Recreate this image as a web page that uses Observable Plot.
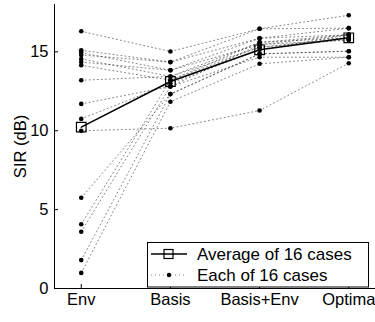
<!DOCTYPE html>
<html>
<head>
<meta charset="utf-8">
<script src="https://cdn.jsdelivr.net/npm/d3@7"></script>
<script src="https://cdn.jsdelivr.net/npm/@observablehq/plot@0.6"></script>
<style>
  html, body { margin: 0; padding: 0; background: #fff; }
  #chart { width: 375px; height: 322px; }
</style>
</head>
<body>
<div id="chart"></div>
<script>
const categories = ["Env", "Basis", "Basis+Env", "Optima"];
const yTicks = [0, 5, 10, 15];

// each of 16 cases, one array per method (case i in position i)
const envValues       = [16.3, 15.1, 14.95, 14.8, 14.55, 14.35, 14.15, 13.2, 11.7, 10.75, 10.0, 5.75, 4.07, 3.6, 1.8, 0.99];
const basisValues     = [15.02, 14.35, 13.83, 14.35, 13.44, 13.83, 13.2, 13.44, 12.8, 13.0, 10.16, 12.32, 13.2, 12.8, 12.32, 11.84];
const basisEnvValues  = [16.46, 16.46, 15.86, 15.86, 15.6, 15.46, 15.6, 15.29, 15.46, 15.13, 11.28, 14.87, 15.29, 14.66, 14.87, 14.24];
const optimaValues    = [17.32, 16.5, 16.5, 16.08, 16.08, 16.08, 15.89, 15.89, 15.76, 16.08, 14.28, 15.04, 15.76, 14.66, 15.04, 14.66];

// average of 16 cases
const averageValues   = [10.23, 13.12, 15.13, 15.89];

const seriesByMethod = [envValues, basisValues, basisEnvValues, optimaValues];
const cases = [];
seriesByMethod.forEach((vals, m) => {
  vals.forEach((v, c) => cases.push({caseId: c, x: m + 1, value: v}));
});
const average = averageValues.map((v, m) => ({x: m + 1, value: v}));

const font = "'Liberation Sans', Arial, Helvetica, sans-serif";

const plot = Plot.plot({
  width: 375,
  height: 322,
  marginLeft: 54,
  marginRight: 0,
  marginTop: 4,
  marginBottom: 34,
  style: {fontFamily: font, fontSize: "16.5px", background: "#fff", color: "#000", overflow: "visible"},
  x: {domain: [0.7, 4.3]},
  y: {domain: [0, 18]},
  marks: [
    Plot.line(cases, {x: "x", y: "value", z: "caseId", stroke: "#000", strokeWidth: 0.9, strokeDasharray: "1,3", strokeOpacity: 0.55}),
    Plot.dot(cases, {x: "x", y: "value", r: 2.3, fill: "#000"}),
    Plot.line(average, {x: "x", y: "value", stroke: "#000", strokeWidth: 1.5}),
    Plot.dot(average, {x: "x", y: "value", symbol: "square", r: 5.4, stroke: "#000", strokeWidth: 1.2, fill: "none"}),
    Plot.axisX({ticks: [1, 2, 3, 4], tickFormat: i => categories[i - 1], tickSize: -4, tickPadding: 9, label: null, fontSize: 16.5}),
    Plot.axisY({ticks: yTicks, tickSize: -4, tickPadding: 10, label: "SIR (dB)", labelAnchor: "center", labelOffset: 40, labelArrow: "none", fontSize: 16.5}),
    Plot.ruleX([0.7], {stroke: "#000", strokeWidth: 1}),
    Plot.ruleY([0], {stroke: "#000", strokeWidth: 1})
  ]
});

document.getElementById("chart").appendChild(plot);

// legend box inside the plot area
const svg = d3.select(plot);
const lg = svg.append("g").attr("font-family", font).attr("font-size", 17).attr("text-anchor", "start");
lg.append("rect").attr("x", 147.5).attr("y", 242.5).attr("width", 221).attr("height", 44.5)
  .attr("fill", "#fff").attr("stroke", "#000").attr("stroke-width", 1);
// average sample
lg.append("line").attr("x1", 151).attr("x2", 187).attr("y1", 254).attr("y2", 254)
  .attr("stroke", "#000").attr("stroke-width", 1.5);
lg.append("rect").attr("x", 164).attr("y", 249.5).attr("width", 9).attr("height", 9)
  .attr("fill", "none").attr("stroke", "#000").attr("stroke-width", 1.2);
lg.append("text").attr("x", 197).attr("y", 254).attr("dy", "0.35em").text("Average of 16 cases");
// each sample
lg.append("line").attr("x1", 151).attr("x2", 187).attr("y1", 275).attr("y2", 275)
  .attr("stroke", "#000").attr("stroke-width", 0.9).attr("stroke-dasharray", "1,3").attr("stroke-opacity", 0.55);
lg.append("circle").attr("cx", 169).attr("cy", 275).attr("r", 2.2).attr("fill", "#000");
lg.append("text").attr("x", 197).attr("y", 275).attr("dy", "0.35em").text("Each of 16 cases");
</script>
</body>
</html>
